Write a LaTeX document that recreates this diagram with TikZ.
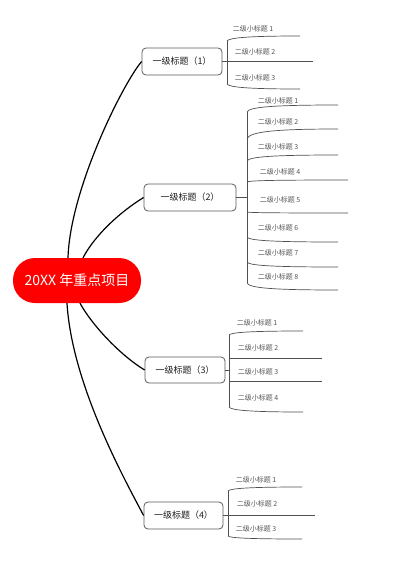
\documentclass[tikz,border=0pt]{standalone}
\usepackage{fontspec}
\setmainfont{Noto Sans CJK SC}
\begin{document}
\begin{tikzpicture}[x=1pt,y=-1pt,
  center/.style={rectangle,rounded corners=22pt,fill={rgb,255:red,255;green,0;blue,0},text=white,
    minimum width=128pt,minimum height=45pt,inner sep=0pt,font=\fontsize{14}{16}\selectfont},
  lvone/.style={rectangle,rounded corners=4pt,draw={rgb,255:red,90;green,90;blue,90},line width=0.8pt,
    fill=white,minimum height=27pt,inner sep=0pt,text={rgb,255:red,30;green,30;blue,30},font=\fontsize{9}{11}\selectfont},
  lab/.style={inner sep=0pt,text={rgb,255:red,85;green,85;blue,85},font=\fontsize{7}{8}\selectfont},
  mainln/.style={line width=1.2pt,black},
  subl/.style={line width=0.7pt,draw={rgb,255:red,80;green,80;blue,80}}]
\useasboundingbox (0,0) rectangle (400,565);
\newcommand\sbr[4]{\draw[subl] (#1,#2) .. controls ({#1+2},{#2+0.7*(#4-#2)}) and ({#1+25},#4) .. (#3,#4);}

% main connectors (drawn first, under nodes)
\node[center] (c) at (77,280.5) {20XX 年重点项目};
\node[lvone,minimum width=80pt] (n1) at (182,61.5) {一级标题（1）};
\node[lvone,minimum width=92pt] (n2) at (190,197.5) {一级标题（2）};
\node[lvone,minimum width=80pt,minimum height=26pt] (n3) at (185,370) {一级标题（3）};
\node[lvone,minimum width=79pt] (n4) at (183.5,515.5) {一级标题（4）};

\begin{scope}[on background layer/.style={}]
\draw[mainln] ([xshift=-9pt]c.north) .. controls (70,190) and (122,85) .. (n1.west);
\draw[mainln] ([xshift=6pt]c.north) .. controls (95,235) and (120,212) .. (n2.west);
\draw[mainln] ([xshift=3pt]c.south) .. controls (92,325) and (120,355) .. (n3.west);
\draw[mainln] ([xshift=-10pt]c.south) .. controls (72,385) and (125,480) .. (n4.west);
\end{scope}

% branch 1
\draw[subl] (n1.east) -- (313,61.5);
\draw[subl] (227,41) -- (227,84);
\sbr{227}{41}{300}{36}
\sbr{227}{84}{300}{89}
\node[lab] (a1) at (253,29) {二级小标题 1};
\node[lab] (a2) at (255,52) {二级小标题 2};
\node[lab] (a3) at (255,78) {二级小标题 3};

% branch 2
\draw[subl] (n2.east) -- (247,197.5);
\draw[subl] (247,112) -- (247,283);
\sbr{247}{112}{338}{105}
\sbr{247}{139}{338}{129}
\sbr{247}{161}{338}{155}
\sbr{247}{182}{348}{180}
\sbr{247}{212}{348}{213}
\sbr{247}{237}{338}{242}
\sbr{247}{262}{338}{267}
\sbr{247}{283}{338}{290}
\node[lab] (b1) at (278,101) {二级小标题 1};
\node[lab] (b2) at (278,122) {二级小标题 2};
\node[lab] (b3) at (278,147) {二级小标题 3};
\node[lab] (b4) at (280,172) {二级小标题 4};
\node[lab] (b5) at (280,200) {二级小标题 5};
\node[lab] (b6) at (278,228) {二级小标题 6};
\node[lab] (b7) at (278,253) {二级小标题 7};
\node[lab] (b8) at (278,277) {二级小标题 8};

% branch 3
\draw[subl] (n3.east) -- (229,370);
\draw[subl] (229,335) -- (229,407);
\sbr{229}{335}{303}{331}
\draw[subl] (229,358) -- (322,358);
\draw[subl] (229,381) -- (322,381);
\sbr{229}{407}{303}{412}
\node[lab] (d1) at (257,323) {二级小标题 1};
\node[lab] (d2) at (258,348) {二级小标题 2};
\node[lab] (d3) at (258,372) {二级小标题 3};
\node[lab] (d4) at (258,398) {二级小标题 4};

% branch 4
\draw[subl] (n4.east) -- (315,515.5);
\draw[subl] (228,491) -- (228,536);
\sbr{228}{491}{302}{487}
\sbr{228}{536}{302}{539}
\node[lab] (e1) at (256,480) {二级小标题 1};
\node[lab] (e2) at (257,504) {二级小标题 2};
\node[lab] (e3) at (256,529) {二级小标题 3};
\end{tikzpicture}
\end{document}
